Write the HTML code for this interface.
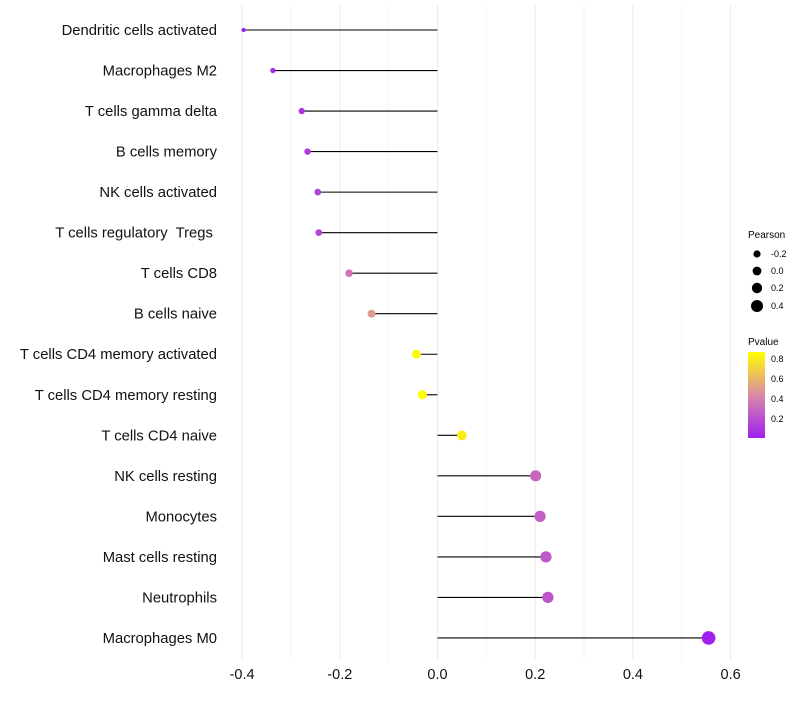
<!DOCTYPE html>
<html><head><meta charset="utf-8"><style>
body{margin:0;background:#fff;font-family:"Liberation Sans",sans-serif}
text{white-space:pre}
</style></head><body>
<svg id="chart" width="800" height="700" xmlns="http://www.w3.org/2000/svg" font-family="Liberation Sans, sans-serif">
<defs><linearGradient id="pg" x1="0" y1="1" x2="0" y2="0">
<stop offset="0" stop-color="#a020f0"/><stop offset="0.5" stop-color="#d98aa8"/><stop offset="1" stop-color="#ffff00"/></linearGradient></defs>
<g id="grid"></g><g id="marks"></g><g id="labels"></g>
<g font-size="9">
<text x="748" y="238" font-size="10">Pearson</text>
<circle cx="757" cy="254" r="3.6"/><text x="771" y="257">-0.2</text>
<circle cx="757" cy="271" r="4.4"/><text x="771" y="274">0.0</text>
<circle cx="757" cy="288" r="5.2"/><text x="771" y="291">0.2</text>
<circle cx="757" cy="306" r="6"/><text x="771" y="309">0.4</text>
</g>
<g font-size="9">
<text x="748" y="345" font-size="10">Pvalue</text>
<rect x="748" y="352" width="17" height="86" fill="url(#pg)"/>
<text x="771" y="362">0.8</text><text x="771" y="382">0.6</text><text x="771" y="402">0.4</text><text x="771" y="422">0.2</text>
</g>
</svg>
<script>
const categories=["Dendritic cells activated","Macrophages M2","T cells gamma delta","B cells memory","NK cells activated","T cells regulatory  Tregs ","T cells CD8","B cells naive","T cells CD4 memory activated","T cells CD4 memory resting","T cells CD4 naive","NK cells resting","Monocytes","Mast cells resting","Neutrophils","Macrophages M0"];
const pearson=[-0.397,-0.337,-0.278,-0.266,-0.245,-0.243,-0.181,-0.135,-0.043,-0.031,0.05,0.201,0.21,0.222,0.226,0.555];
const pvalue=[0.02,0.05,0.1,0.12,0.15,0.16,0.35,0.5,0.85,0.88,0.8,0.3,0.27,0.24,0.23,0.01];
const xTicks=[-0.4,-0.2,0,0.2,0.4,0.6];
const xTickLabels=["-0.4","-0.2","0.0","0.2","0.4","0.6"];
const NS="http://www.w3.org/2000/svg";
const xs=v=>437.5+v*488.5;
const ys=i=>30+i*40.53;
const rs=v=>Math.sqrt(4.5+44*(v+0.4));
function col(p){let t=Math.max(0,Math.min(1,(p-0.01)/0.86));
const a=[160,32,240],m=[217,138,168],b=[255,255,0];let c;
if(t<0.5){const u=t*2;c=a.map((x,k)=>Math.round(x+(m[k]-x)*u));}else{const u=(t-0.5)*2;c=m.map((x,k)=>Math.round(x+(b[k]-x)*u));}
return `rgb(${c})`;}
function mk(tag,at,parent){const e=document.createElementNS(NS,tag);for(const k in at)e.setAttribute(k,at[k]);document.getElementById(parent).appendChild(e);return e;}
for(let k=-4;k<=6;k++){const v=k/10;const g=mk('line',{x1:xs(v),x2:xs(v),y1:5,y2:660,stroke:k%2===0?'#ebebeb':'#f4f4f4','stroke-width':1},'grid');

}
xTicks.forEach((v,i)=>{const t=mk('text',{x:xs(v),y:679,'text-anchor':'middle','font-size':14.5,fill:'#111'},'labels');t.textContent=xTickLabels[i];

});
categories.forEach((c,i)=>{const y=ys(i);
const t=mk('text',{x:217,y:y+5,'text-anchor':'end','font-size':14.8,fill:'#111'},'labels');t.textContent=c;


const l=mk('line',{x1:xs(0),x2:xs(pearson[i]),y1:y,y2:y,stroke:'#000','stroke-width':1.1},'marks');


const d=mk('circle',{cx:xs(pearson[i]),cy:y,r:rs(pearson[i]),fill:col(pvalue[i])},'marks');

});
</script>
</body></html>
